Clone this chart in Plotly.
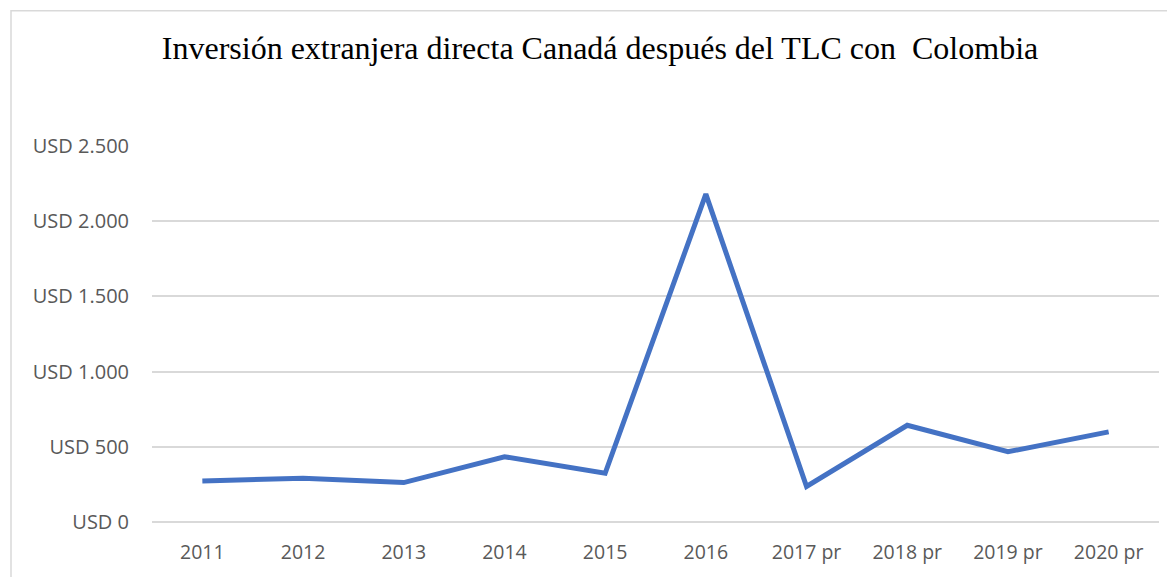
import plotly.graph_objects as go

years = ["2011", "2012", "2013", "2014", "2015", "2016", "2017 pr", "2018 pr", "2019 pr", "2020 pr"]
ied_usd = [273, 291, 262, 434, 324, 2180, 236, 643, 467, 599]
y_tick_vals = [0, 500, 1000, 1500, 2000, 2500]
y_tick_text = ["USD 0", "USD 500", "USD 1.000", "USD 1.500", "USD 2.000", "USD 2.500"]
title_text = "Inversión extranjera directa Canadá después del TLC con  Colombia"

# page has an 8px body margin, so figure coords = page coords - 8
W, H = 1167, 569
ml, mr, mt, mb = 144, 16, 138, 53
pw = W - ml - mr
ph = H - mt - mb

fig = go.Figure()
fig.add_trace(go.Scatter(
    x=years, y=ied_usd, mode="lines",
    line=dict(color="#4472C4", width=5),
    hoverinfo="skip", showlegend=False,
))

fig.update_layout(
    width=W, height=H,
    margin=dict(l=ml, r=mr, t=mt, b=mb),
    paper_bgcolor="white", plot_bgcolor="white",
    title=dict(text=title_text, x=592 / W, xanchor="center", y=1 - 40 / H, yanchor="middle",
               font=dict(family="Liberation Serif", size=32, color="black")),
    xaxis=dict(type="category", range=[-0.5, len(years) - 0.5], showgrid=False, zeroline=False,
               showline=False,
               tickfont=dict(family="Open Sans", size=19.5, color="#595959"),
               ticks="", ticklabelstandoff=16),
    yaxis=dict(range=[0, 2500], tickvals=y_tick_vals, ticktext=y_tick_text,
               showgrid=True, gridcolor="#d9d9d9", gridwidth=1.5,
               zeroline=True, zerolinecolor="#d9d9d9", zerolinewidth=1.5,
               showline=False, ticks="",
               tickfont=dict(family="Open Sans", size=20, color="#595959"),
               ticklabelstandoff=22),
    shapes=[dict(type="rect", xref="paper", yref="paper",
                 x0=(3 - ml) / pw, x1=(W + 20 - ml) / pw,
                 y0=-(mb + 20) / ph, y1=(H - 2 - mb) / ph,
                 line=dict(color="#d9d9d9", width=1.5), fillcolor="rgba(0,0,0,0)", layer="below")],
)

fig.write_html("out.html")
